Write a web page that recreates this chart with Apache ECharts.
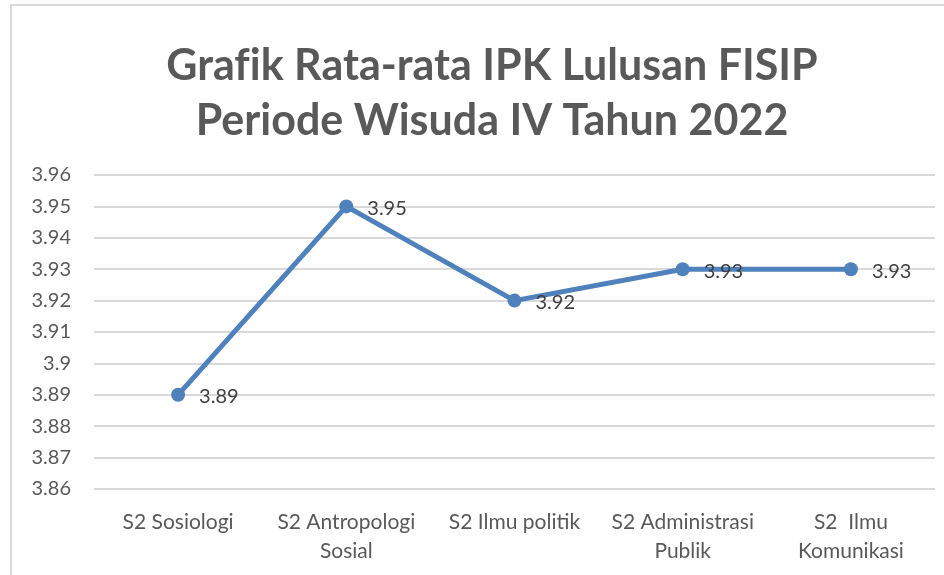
<!DOCTYPE html>
<html>
<head>
<meta charset="utf-8">
<script src="https://cdn.jsdelivr.net/npm/echarts@6/dist/echarts.min.js"></script>
<style>
  html, body { margin: 0; padding: 0; background: #fff; }
  #chart { width: 944px; height: 575px; }
</style>
</head>
<body>
<div id="chart"></div>
<script>
// data
const categories = [
  "S2 Sosiologi",
  "S2 Antropologi\nSosial",
  "S2 Ilmu politik",
  "S2 Administrasi\nPublik",
  "S2  Ilmu\nKomunikasi",
];
const ipkValues = [3.89, 3.95, 3.92, 3.93, 3.93];
const yMin = 3.86;
const yMax = 3.96;
const yStep = 0.01;

const chart = echarts.init(document.getElementById("chart"));

const fmt = (v) => String(parseFloat(v.toFixed(2)));

chart.setOption({
  backgroundColor: "#fff",
  animation: false,
  title: {
    // \u200C biar "fi" tidak jadi ligatur
    text: "Graf\u200Cik Rata-rata IPK Lulusan FISIP\nPeriode Wisuda IV Tahun 2022",
    left: 487,
    textAlign: "center",
    top: 34,
    textStyle: {
      fontFamily: "Lato",
      fontWeight: "bold",
      fontSize: 43,
      lineHeight: 55,
      color: "#595959",
    },
  },
  // bingkai chart
  graphic: [
    {
      type: "rect",
      shape: { x: 11, y: 5, width: 960, height: 600 },
      style: { fill: "none", stroke: "#d9d9d9", lineWidth: 2 },
      silent: true,
    },
  ],
  grid: {
    left: 94,
    right: 9,
    top: 175,
    bottom: 86,
    containLabel: false,
  },
  xAxis: {
    type: "category",
    data: categories,
    boundaryGap: true,
    axisLine: { show: false },
    axisTick: { show: false },
    axisLabel: {
      margin: 19,
      interval: 0,
      fontFamily: "Lato",
      fontSize: 21,
      lineHeight: 29,
      color: "#595959",
    },
  },
  yAxis: {
    type: "value",
    min: yMin,
    max: yMax,
    interval: yStep,
    axisLine: { show: false },
    axisTick: { show: false },
    axisLabel: {
      margin: 23,
      fontFamily: "Lato",
      fontSize: 20,
      color: "#595959",
      formatter: (v) => fmt(v),
    },
    splitLine: {
      lineStyle: { color: "#d9d9d9", width: 2 },
    },
  },
  series: [
    {
      type: "line",
      data: ipkValues,
      symbol: "circle",
      symbolSize: 14,
      lineStyle: { color: "#4f81bd", width: 5 },
      itemStyle: { color: "#4f81bd" },
      label: {
        show: true,
        position: "right",
        distance: 14,
        offset: [0, 2],
        fontFamily: "Lato",
        fontSize: 20,
        color: "#404040",
        formatter: (p) => fmt(p.value),
      },
      z: 3,
    },
  ],
});
</script>
</body>
</html>
